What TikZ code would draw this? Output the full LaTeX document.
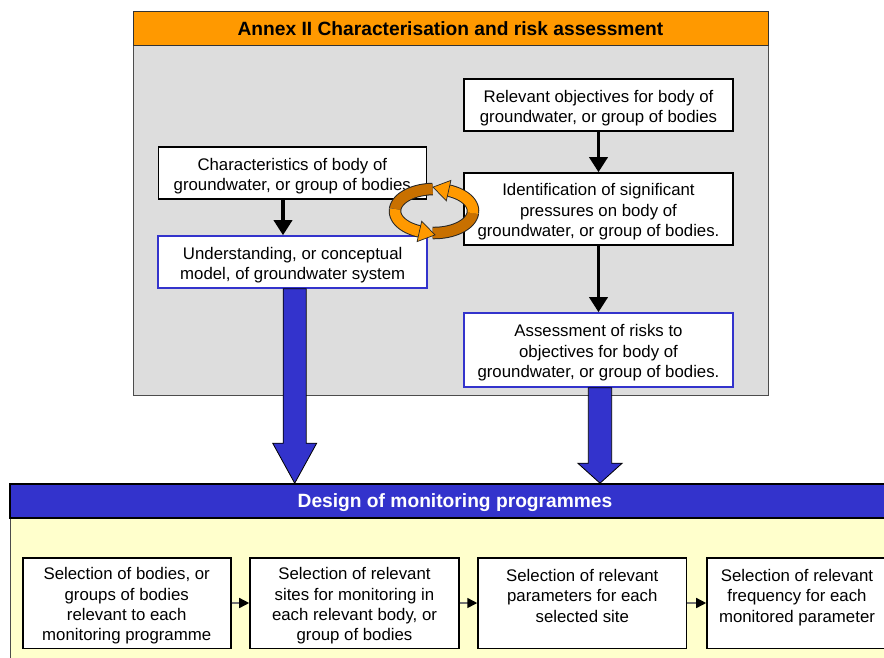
\documentclass[tikz,border=0pt]{standalone}
\usepackage{fontspec}
\setmainfont{Liberation Sans}
\usetikzlibrary{arrows.meta,calc}
\definecolor{orng}{HTML}{FF9900}
\definecolor{orngdark}{HTML}{C87000}
\definecolor{grayfill}{HTML}{DDDDDD}
\definecolor{bluefill}{HTML}{3333CC}
\definecolor{yellowfill}{HTML}{FFFFCC}
\begin{document}
\begin{tikzpicture}[x=1pt,y=-1pt,
  txt/.style={font=\fontsize{16.8}{20.4}\selectfont, align=center, text=black, inner sep=0pt},
  wbox/.style={draw=black, line width=1.6pt, fill=white, inner sep=0pt},
  bbox/.style={wbox, draw=bluefill},
  inside/.style={label={[txt,yshift=-3pt]center:#1}},
  hdr/.style={inner sep=0pt, text height=13.75pt, text depth=0pt, font=\bfseries\fontsize{19.2}{22}\selectfont},
  flowarrow/.style={line width=3.5pt, -{Triangle[length=15pt,width=18pt]}},
  bigarrow/.style={fill=bluefill, draw=black, line width=0.8pt},
  smallarrow/.style={draw=black!55, line width=1.5pt, -{Triangle[length=10pt,width=10pt,color=black]}},
  ribbonout/.style={line width=12.5pt, draw=black!85},
  ribbondark/.style={line width=10.5pt, draw=orngdark},
  ribbonlight/.style={line width=10.5pt, draw=orng},
  headshape/.style={fill=orng, draw=black!85, line width=0.7pt, line join=miter}
]
\useasboundingbox (0,0) rectangle (884,657);
\clip (0,0) rectangle (884,657);
\fill[white] (0,0) rectangle (884,657);

% upper panel
\node[draw=black!70, line width=1pt, fill=grayfill, minimum width=635pt, minimum height=350pt, anchor=north west, inner sep=0pt] (panel) at (133,45) {};
\node[hdr, fill=orng, draw=black!80, line width=1pt, minimum width=635pt, minimum height=34pt] (annex) at (450.5,28.5) {Annex II Characterisation and risk assessment};

% lower panel
\node[fill=yellowfill, draw=black!70, line width=1pt, anchor=north west, minimum width=890pt, minimum height=150pt, inner sep=0pt] (ybody) at (10,518) {};
\node[hdr, fill=bluefill, draw=black, line width=1.6pt, text=white, minimum width=890pt, minimum height=34pt] (design) at (455,501) {Design of monitoring programmes};

% upper boxes
\node[wbox, minimum width=269pt, minimum height=52pt, inside={Relevant objectives for body of\\groundwater, or group of bodies}] (rel) at (598.5,105) {};
\node[wbox, minimum width=268pt, minimum height=52pt, inside={Characteristics of body of\\groundwater, or group of bodies}] (char) at (292.3,173) {};
\node[wbox, minimum width=269pt, minimum height=72pt, inside={Identification of significant\\pressures on body of\\groundwater, or group of bodies.}] (ident) at (598.5,209) {};
\node[bbox, minimum width=269pt, minimum height=52pt, inside={Understanding, or conceptual\\model, of groundwater system}] (und) at (292.7,262) {};
\node[bbox, minimum width=269pt, minimum height=74pt, inside={Assessment of risks to\\objectives for body of\\groundwater, or group of bodies.}] (assess) at (598.5,350) {};

% lower boxes
\node[wbox, minimum width=208pt, minimum height=90.6pt, inside={Selection of bodies, or\\groups of bodies\\relevant to each\\monitoring programme}] (b1) at (126.7,603) {};
\node[wbox, minimum width=209pt, minimum height=90.6pt, inside={Selection of relevant\\sites for monitoring in\\each relevant body, or\\group of bodies}] (b2) at (354.5,603) {};
\node[wbox, minimum width=208.5pt, minimum height=90.6pt, inside={Selection of relevant\\parameters for each\\selected site\\\mbox{}}] (b3) at (582.3,603) {};
\node[wbox, minimum width=180pt, minimum height=90.6pt, inside={Selection of relevant\\frequency for each\\monitored parameter\\\mbox{}}] (b4) at (797,603) {};

% black flow arrows
\coordinate (cx) at (283,0);
\draw[flowarrow] (rel) -- (ident);
\draw[flowarrow] (char.south -| cx) -- (und.north -| cx);
\draw[flowarrow] (ident) -- (assess);

% small arrows
\draw[smallarrow] (b1) -- (b2);
\draw[smallarrow] (b2) -- (b3);
\draw[smallarrow] (b3) -- (b4);

% big blue arrows
\coordinate (lx) at (294.7,0);
\coordinate (rx) at (600,0);
\path[bigarrow] let \p1=(und.south -| lx), \p2=(design.north -| lx) in
  (\x1-11.5pt,\y1) -- (\x1+11.5pt,\y1) -- (\x1+11.5pt,\y2+40pt) -- (\x1+22pt,\y2+40pt)
  -- (\x2,\y2) -- (\x1-22pt,\y2+40pt) -- (\x1-11.5pt,\y2+40pt) -- cycle;
\path[bigarrow] let \p1=(assess.south -| rx), \p2=(design.north -| rx) in
  (\x1-11.7pt,\y1) -- (\x1+11.7pt,\y1) -- (\x1+11.7pt,\y2+20pt) -- (\x1+22.2pt,\y2+20pt)
  -- (\x2,\y2) -- (\x1-22.2pt,\y2+20pt) -- (\x1-11.7pt,\y2+20pt) -- cycle;

% orange cycle arrows
\draw[ribbonout] plot[domain=5:92,samples=40] ({434+39*cos(\x)},{211+22*sin(\x)});
\draw[ribbondark] plot[domain=5:92,samples=40] ({434+39*cos(\x)},{211+22*sin(\x)});
\draw[ribbonout] plot[domain=185:268,samples=40] ({434+39*cos(\x)},{211+22*sin(\x)});
\draw[ribbondark] plot[domain=185:268,samples=40] ({434+39*cos(\x)},{211+22*sin(\x)});
\draw[ribbonout] plot[domain=-68:5,samples=40] ({434+39*cos(\x)},{211+22*sin(\x)});
\draw[ribbonlight] plot[domain=-68:5.5,samples=40] ({434+39*cos(\x)},{211+22*sin(\x)});
\draw[ribbonout] plot[domain=112:185,samples=40] ({434+39*cos(\x)},{211+22*sin(\x)});
\draw[ribbonlight] plot[domain=111.5:185,samples=40] ({434+39*cos(\x)},{211+22*sin(\x)});
\draw[headshape] (450.9,180.4) -- (433.0,187.1) -- (446.3,200.8) -- cycle;
\draw[headshape] (417.1,241.6) -- (435.0,234.9) -- (421.7,221.2) -- cycle;
\end{tikzpicture}
\end{document}
